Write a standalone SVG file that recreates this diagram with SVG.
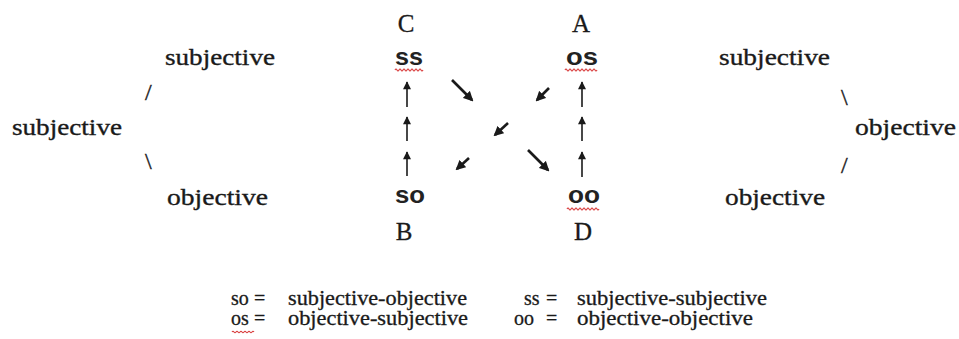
<svg xmlns="http://www.w3.org/2000/svg" width="959" height="339" viewBox="0 0 959 339">
  <defs>
    <style>
      .w { font-family: "Liberation Serif", "Times New Roman", serif; font-size: 24px; fill: #1a1a1a; stroke: #1a1a1a; stroke-width: 0.35; }
      .cap { font-family: "Liberation Serif", "Times New Roman", serif; font-size: 25px; fill: #1a1a1a; stroke: #1a1a1a; stroke-width: 0.3; text-anchor: middle; }
      .code { font-family: "Liberation Sans", Arial, sans-serif; font-size: 24px; font-weight: bold; fill: #222222; }
      .leg { font-family: "Liberation Serif", "Times New Roman", serif; font-size: 20px; fill: #1a1a1a; stroke: #1a1a1a; stroke-width: 0.3; }
      .squig { fill: none; stroke: #d83a3a; stroke-width: 1.1; }
      .up { stroke: #1a1a1a; stroke-width: 1.6; fill: none; marker-end: url(#headUp); }
      .diag { stroke: #1a1a1a; stroke-width: 2.6; fill: none; marker-end: url(#headDiag); }
    </style>
    <marker id="headUp" viewBox="0 0 10 10" refX="9" refY="5" markerWidth="9" markerHeight="8" markerUnits="userSpaceOnUse" orient="auto">
      <path d="M0,0 L10,5 L0,10 z" fill="#1a1a1a"/>
    </marker>
    <marker id="headDiag" viewBox="0 0 10 10" refX="8" refY="5" markerWidth="10" markerHeight="10" markerUnits="userSpaceOnUse" orient="auto">
      <path d="M0,0 L10,5 L0,10 z" fill="#1a1a1a"/>
    </marker>
  </defs>
  <rect width="959" height="339" fill="#ffffff"/>

  <!-- left branching: subjective splits into subjective / objective -->
  <g id="left-tree">
    <text class="w" x="165" y="65" textLength="110" lengthAdjust="spacingAndGlyphs">subjective</text>
    <text class="w" x="145" y="100">/</text>
    <text class="w" x="12" y="135" textLength="110" lengthAdjust="spacingAndGlyphs">subjective</text>
    <text class="w" x="145" y="169">\</text>
    <text class="w" x="167" y="205" textLength="101" lengthAdjust="spacingAndGlyphs">objective</text>
  </g>

  <!-- right branching: subjective / objective join into objective -->
  <g id="right-tree">
    <text class="w" x="719" y="65" textLength="111" lengthAdjust="spacingAndGlyphs">subjective</text>
    <text class="w" x="841" y="105">\</text>
    <text class="w" x="855" y="135" textLength="101" lengthAdjust="spacingAndGlyphs">objective</text>
    <text class="w" x="841" y="173">/</text>
    <text class="w" x="725" y="205" textLength="100" lengthAdjust="spacingAndGlyphs">objective</text>
  </g>

  <!-- corner nodes -->
  <g id="node-C">
    <text class="cap" x="406" y="32">C</text>
    <text class="code" x="395" y="65" textLength="28" lengthAdjust="spacingAndGlyphs">ss</text>
    <path class="squig" d="M395,70 q1,-2 2,0 t2,0 t2,0 t2,0 t2,0 t2,0 t2,0 t2,0 t2,0 t2,0 t2,0 t2,0 t2,0 t2,0"/>
  </g>
  <g id="node-A">
    <text class="cap" x="581" y="32">A</text>
    <text class="code" x="566" y="65" textLength="32" lengthAdjust="spacingAndGlyphs">os</text>
    <path class="squig" d="M565,70 q1,-2 2,0 t2,0 t2,0 t2,0 t2,0 t2,0 t2,0 t2,0 t2,0 t2,0 t2,0 t2,0 t2,0 t2,0 t2,0 t2,0"/>
  </g>
  <g id="node-B">
    <text class="code" x="395" y="203" textLength="30" lengthAdjust="spacingAndGlyphs">so</text>
    <text class="cap" x="404" y="240">B</text>
  </g>
  <g id="node-D">
    <text class="code" x="568" y="203" textLength="32" lengthAdjust="spacingAndGlyphs">oo</text>
    <path class="squig" d="M567,209 q1,-2 2,0 t2,0 t2,0 t2,0 t2,0 t2,0 t2,0 t2,0 t2,0 t2,0 t2,0 t2,0 t2,0 t2,0 t2,0 t2,0"/>
    <text class="cap" x="583" y="240">D</text>
  </g>

  <!-- transitions between the four positions -->
  <g id="connectors">
    <path class="up" d="M407,107 V82"/>
    <path class="up" d="M407,141 V117"/>
    <path class="up" d="M407,176 V152"/>
    <path class="up" d="M582,107 V82"/>
    <path class="up" d="M582,141 V117"/>
    <path class="up" d="M582,177 V152"/>
    <path class="diag" d="M452,80 L472,100"/>
    <path class="diag" d="M549,88 L537,100"/>
    <path class="diag" d="M508,123 L495,135"/>
    <path class="diag" d="M469,158 L457,169"/>
    <path class="diag" d="M528,150 L548,170"/>
  </g>

  <!-- key -->
  <g id="legend">
    <text class="leg" x="231" y="305">so</text>
    <text class="leg" x="254" y="305">=</text>
    <text class="leg" x="288" y="305" textLength="179" lengthAdjust="spacingAndGlyphs">subjective-objective</text>
    <text class="leg" x="524" y="305">ss</text>
    <text class="leg" x="546" y="305">=</text>
    <text class="leg" x="577" y="305" textLength="190" lengthAdjust="spacingAndGlyphs">subjective-subjective</text>

    <text class="leg" x="231" y="325">os</text>
    <path class="squig" d="M232,332 q1,-1.6 2,0 t2,0 t2,0 t2,0 t2,0 t2,0 t2,0 t2,0 t2,0 t2,0 t2,0"/>
    <text class="leg" x="254" y="325">=</text>
    <text class="leg" x="288" y="325" textLength="180" lengthAdjust="spacingAndGlyphs">objective-subjective</text>
    <text class="leg" x="514" y="325">oo</text>
    <text class="leg" x="546" y="325">=</text>
    <text class="leg" x="577" y="325" textLength="176" lengthAdjust="spacingAndGlyphs">objective-objective</text>
  </g>
</svg>
